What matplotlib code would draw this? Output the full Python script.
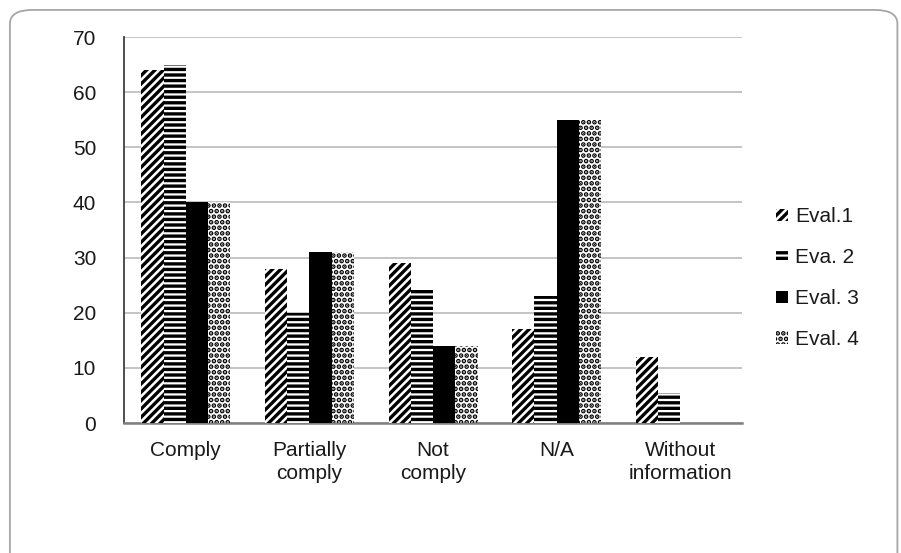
import matplotlib
matplotlib.use("Agg")
import matplotlib.pyplot as plt
import numpy as np
from matplotlib.patches import FancyBboxPatch

categories = ["Comply", "Partially\ncomply", "Not\ncomply", "N/A", "Without\ninformation"]
series_names = ["Eval.1", "Eva. 2", "Eval. 3", "Eval. 4"]
eval1 = [64, 28, 29, 17, 12]
eval2 = [65, 20, 24.5, 23, 5.4]
eval3 = [40, 31, 14, 55, 0]
eval4 = [40, 31, 14, 55, 0]

plt.rcParams['font.family'] = ['Liberation Sans', 'DejaVu Sans']
plt.rcParams['hatch.linewidth'] = 2.4

fig = plt.figure(figsize=(9.01, 5.53), dpi=100)
border = FancyBboxPatch((0.011, -0.1), 0.985, 1.082, boxstyle="round,pad=0,rounding_size=0.025",
                        transform=fig.transFigure, facecolor='white', edgecolor='#a6a6a6',
                        linewidth=1.3, zorder=-10)
fig.patches.append(border)

ax = fig.add_axes([0.1376, 0.235, 0.686, 0.698])
x = np.arange(len(categories))
w = 0.18
hatches = ['////', '---', None, '...']
data = [eval1, eval2, eval3, eval4]
for i, (vals, h, name) in enumerate(zip(data, hatches, series_names)):
    fc = 'black' if h is None else 'white'
    ax.bar(x + (i - 1.5) * w, vals, w, facecolor=fc, edgecolor='black', linewidth=0,
           hatch=h, label=name, zorder=3)

ax.set_xlim(-0.5, len(categories) - 0.5)
ax.set_ylim(0, 70)
ax.set_yticks(range(0, 71, 10))
ax.yaxis.grid(True, color='#bfbfbf', linewidth=1.3, zorder=0)
ax.set_axisbelow(True)
for s in ['top', 'right']:
    ax.spines[s].set_visible(False)
ax.spines['left'].set_color('#404040')
ax.spines['left'].set_linewidth(1.3)
ax.spines['bottom'].set_color('#808080')
ax.spines['bottom'].set_linewidth(1.8)
ax.tick_params(axis='y', length=0, labelsize=15, pad=20, labelcolor='#1a1a1a')
ax.tick_params(axis='x', length=0, labelsize=15, pad=13, labelcolor='#1a1a1a')
ax.set_xticks(x)
ax.set_xticklabels(categories, linespacing=1.25)

leg = ax.legend(loc='center left', bbox_to_anchor=(1.025, 0.375), frameon=False,
                fontsize=15, handlelength=0.55, handleheight=0.55, handletextpad=0.35,
                labelspacing=1.05, labelcolor='#1a1a1a')

fig.savefig("out.png", dpi=100)
